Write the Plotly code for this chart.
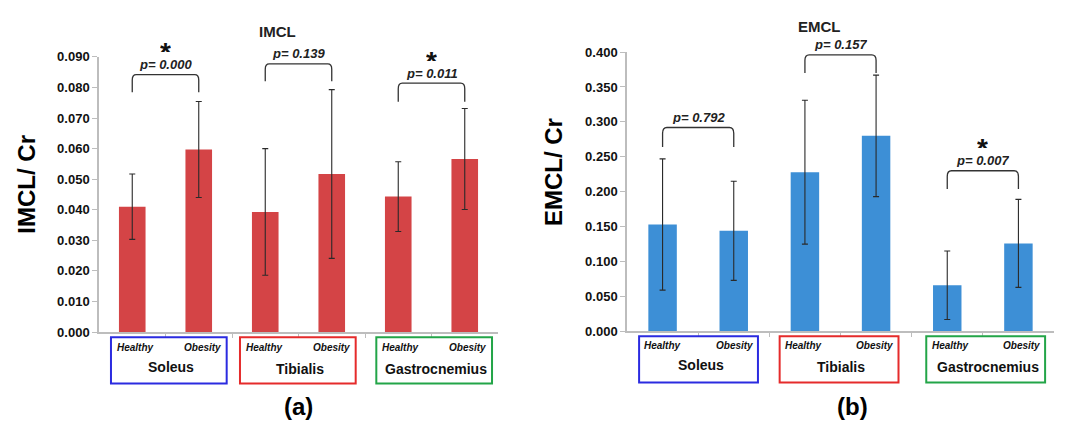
import plotly.graph_objects as go

# ---------------- data ----------------
groups = ["Soleus", "Tibialis", "Gastrocnemius"]
conditions = ["Healthy", "Obesity"]
bar_labels = ["Soleus Healthy", "Soleus Obesity", "Tibialis Healthy",
              "Tibialis Obesity", "Gastrocnemius Healthy", "Gastrocnemius Obesity"]

imcl_mean = [0.0410, 0.0597, 0.0393, 0.0517, 0.0443, 0.0566]
imcl_sd = [0.0107, 0.0157, 0.0207, 0.0276, 0.0114, 0.0165]
imcl_p = ["p= 0.000", "p= 0.139", "p= 0.011"]
imcl_sig = [True, False, True]

emcl_mean = [0.153, 0.144, 0.228, 0.280, 0.066, 0.126]
emcl_sd = [0.094, 0.071, 0.103, 0.087, 0.049, 0.063]
emcl_p = ["p= 0.792", "p= 0.157", "p= 0.007"]
emcl_sig = [False, False, True]

imcl_ticks = [0.000, 0.010, 0.020, 0.030, 0.040, 0.050, 0.060, 0.070, 0.080, 0.090]
emcl_ticks = [0.000, 0.050, 0.100, 0.150, 0.200, 0.250, 0.300, 0.350, 0.400]

# ---------------- layout config (positions / styles) ----------------
W, H = 1067, 433
FONT = "Liberation Sans, Arial, sans-serif"
RED = "#D44446"
BLUE = "#3D8FD6"
BOX_COLORS = ["#2B2BE0", "#E52B2B", "#23A548"]

panels = [
    dict(mean=imcl_mean, sd=imcl_sd, p=imcl_p, sig=imcl_sig, ticks=imcl_ticks,
         color=RED, xr=(99, 498), yr=(336.7, 51.7), ymax=0.090,
         title="IMCL", title_xy=(277, 25), ytitle="IMCL/ Cr", ytitle_xy=(27, 184),
         panel="(a)", panel_xy=(298, 414),
         br_top=[0.0842, 0.0877, 0.0814], br_leg=[0.0784, 0.0820, 0.0753],
         box_c=[0.55, 2.49, 4.54], box_hw=0.87, box_y=(342, 390),
         hy_y=353, grp_y=[373, 375, 375]),
    dict(mean=emcl_mean, sd=emcl_sd, p=emcl_p, sig=emcl_sig, ticks=emcl_ticks,
         color=BLUE, xr=(627, 1054), yr=(336.0, 46.7), ymax=0.400,
         title="EMCL", title_xy=(819, 20), ytitle="EMCL/ Cr", ytitle_xy=(553, 171),
         panel="(b)", panel_xy=(852, 414),
         br_top=[0.292, 0.396, 0.230], br_leg=[0.264, 0.370, 0.204],
         box_c=[0.505, 2.48, 4.54], box_hw=0.835, box_y=(341, 389),
         hy_y=351, grp_y=[371, 373, 373]),
]

fig = go.Figure()
shapes = []
annotations = []


def px(xp):
    return xp / W


def py(yp):
    return 1 - yp / H


def ann(**kw):
    kw.setdefault("showarrow", False)
    kw.setdefault("xanchor", "center")
    kw.setdefault("yanchor", "middle")
    annotations.append(kw)


for i, pn in enumerate(panels):
    xa = "x" if i == 0 else "x2"
    ya = "y" if i == 0 else "y2"
    xkey = "xaxis" if i == 0 else "xaxis2"
    ykey = "yaxis" if i == 0 else "yaxis2"
    xs = list(range(len(bar_labels)))
    fig.add_trace(go.Bar(
        x=xs, y=pn["mean"], width=0.4,
        marker=dict(color=pn["color"], line=dict(width=0)),
        error_y=dict(type="data", array=pn["sd"], visible=True,
                     color="#2a2a2a", thickness=1.1, width=3),
        xaxis=xa, yaxis=ya, showlegend=False, hoverinfo="y",
        hovertext=bar_labels, textposition="none",
    ))
    fig.layout[xkey] = dict(
        domain=[px(pn["xr"][0]), px(pn["xr"][1])], range=[-0.5, 5.5],
        showgrid=False, zeroline=False, showline=True, linecolor="#BDBDBD", linewidth=1.5,
        tickmode="array", tickvals=[0.5, 1.5, 2.5, 3.5, 4.5], ticktext=[""] * 5,
        ticks="outside", ticklen=4, tickcolor="#BDBDBD", tickwidth=1,
        anchor=ya, fixedrange=True,
    )
    fig.layout[ykey] = dict(
        domain=[py(pn["yr"][0]), py(pn["yr"][1])], range=[0, pn["ymax"]],
        showgrid=False, zeroline=False, showline=True, linecolor="#BDBDBD", linewidth=1.5,
        tickmode="array", tickvals=pn["ticks"],
        ticktext=["%.3f" % t for t in pn["ticks"]],
        ticks="outside", ticklen=5, tickcolor="#BDBDBD",
        tickfont=dict(family=FONT, size=13, color="#111111", weight="bold"),
        anchor=xa, fixedrange=True,
    )

    # title / y-title / panel label
    ann(text="<b>%s</b>" % pn["title"], x=px(pn["title_xy"][0]), y=py(pn["title_xy"][1]),
        xref="paper", yref="paper", font=dict(family=FONT, size=15, color="#222"))
    ann(text="<b>%s</b>" % pn["ytitle"], x=px(pn["ytitle_xy"][0]), y=py(pn["ytitle_xy"][1]),
        xref="paper", yref="paper", textangle=-90,
        font=dict(family=FONT, size=24, color="#000"))
    ann(text="<b>%s</b>" % pn["panel"], x=px(pn["panel_xy"][0]), y=py(pn["panel_xy"][1]),
        xref="paper", yref="paper", font=dict(family=FONT, size=24, color="#000"))

    # brackets with p values
    for g in range(3):
        x1, x2 = 2 * g, 2 * g + 1
        top, leg = pn["br_top"][g], pn["br_leg"][g]
        r = (top - leg) * 0.3
        dx = 0.06
        path = (f"M {x1},{leg} L {x1},{top - r} Q {x1},{top} {x1 + dx},{top} "
                f"L {x2 - dx},{top} Q {x2},{top} {x2},{top - r} L {x2},{leg}")
        shapes.append(dict(type="path", path=path, xref=xa, yref=ya,
                           line=dict(color="#333333", width=1.3)))
        ann(text="<b><i>%s</i></b>" % pn["p"][g], x=(x1 + x2) / 2, y=top,
            xref=xa, yref=ya, yshift=10.5, height=14,
            font=dict(family=FONT, size=13, color="#222"))
        if pn["sig"][g]:
            ann(text="<b>*</b>", x=(x1 + x2) / 2, y=top, xref=xa, yref=ya, yshift=30,
                height=15, valign="top",
                font=dict(family=FONT, size=28, color="#111"))

    # group boxes with labels
    for g in range(3):
        c = pn["box_c"][g]
        hw = pn["box_hw"]
        shapes.append(dict(type="rect", xref=xa, yref="paper",
                           x0=c - hw, x1=c + hw,
                           y0=py(pn["box_y"][1]), y1=py(pn["box_y"][0]),
                           line=dict(color=BOX_COLORS[g], width=2), fillcolor="rgba(0,0,0,0)"))
        for k, cond in enumerate(conditions):
            ann(text="<b><i>%s</i></b>" % cond, x=2 * g + k + (c - (2 * g + 0.5)),
                y=py(pn["hy_y"]), xref=xa, yref="paper",
                font=dict(family=FONT, size=10, color="#111"))
        ann(text="<b>%s</b>" % groups[g], x=c + 0.03, y=py(pn["grp_y"][g]),
            xref=xa, yref="paper", font=dict(family=FONT, size=14, color="#111"))

fig.update_layout(
    width=W, height=H, margin=dict(l=0, r=0, t=0, b=0),
    paper_bgcolor="white", plot_bgcolor="white",
    shapes=shapes, annotations=annotations, showlegend=False,
    font=dict(family=FONT),
)

fig.write_html("out.html", config={"displayModeBar": False})
